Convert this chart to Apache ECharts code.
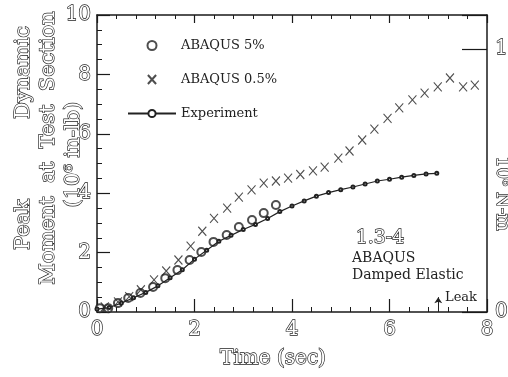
<!DOCTYPE html>
<html><head><meta charset="utf-8">
<script src="https://cdn.jsdelivr.net/npm/echarts@6/dist/echarts.min.js"></script>
<style>html,body{margin:0;padding:0;background:#fff}#c{width:508px;height:377px}</style>
</head><body><div id="c"></div>
<script>
// ABAQUS 5% damping (circles)
const t5 = [0.06, 0.23, 0.43, 0.64, 0.89, 1.15, 1.40, 1.65, 1.90, 2.14, 2.39, 2.66, 2.91, 3.18, 3.42, 3.67];
const m5 = [0.13, 0.13, 0.30, 0.47, 0.64, 0.84, 1.14, 1.41, 1.75, 2.02, 2.36, 2.59, 2.86, 3.10, 3.33, 3.60];
// ABAQUS 0.5% damping (crosses)
const tX = [0.16, 0.43, 0.66, 0.90, 1.17, 1.42, 1.67, 1.92, 2.16, 2.40, 2.67, 2.91, 3.17, 3.42, 3.67, 3.92, 4.17, 4.43, 4.67, 4.95, 5.18, 5.44, 5.69, 5.96, 6.20, 6.47, 6.72, 6.99, 7.24, 7.51, 7.75];
const mX = [0.17, 0.34, 0.52, 0.75, 1.08, 1.38, 1.75, 2.22, 2.72, 3.15, 3.50, 3.87, 4.11, 4.34, 4.41, 4.51, 4.63, 4.75, 4.88, 5.18, 5.42, 5.79, 6.16, 6.52, 6.87, 7.14, 7.37, 7.58, 7.88, 7.58, 7.64];
// Experiment
const tE = [0, 0.25, 0.5, 0.75, 1.0, 1.25, 1.5, 1.75, 2.0, 2.25, 2.5, 2.75, 3.0, 3.25, 3.5, 3.75, 4.0, 4.25, 4.5, 4.75, 5.0, 5.25, 5.5, 5.75, 6.0, 6.25, 6.5, 6.75, 6.97];
const mE = [0.10, 0.15, 0.30, 0.48, 0.66, 0.88, 1.15, 1.42, 1.78, 2.08, 2.38, 2.58, 2.78, 2.95, 3.15, 3.38, 3.57, 3.74, 3.90, 4.02, 4.12, 4.21, 4.31, 4.41, 4.47, 4.54, 4.60, 4.65, 4.67];
// Axis settings / tick labels
const xTickLabels = ['0', '2', '4', '6', '8'];
const yTickLabels = ['0', '2', '4', '6', '8', '10'];
const rightTickLabels = ['0', '1'];
const inLbPerNm = 8.85;   // 1 (10^6 N-m) = 8.85 (10^6 in-lb)
const leakTime = 7.0;

const FF = 'DejaVu Serif';
const outline = {color: '#fff', textBorderColor: '#222', textBorderWidth: 1.3, fontFamily: FF};
const gOutline = {fill: '#fff', stroke: '#222', lineWidth: 1.3, fontFamily: FF};
const axisColor = '#1a1a1a';
const markColor = '#222';

const chart = echarts.init(document.getElementById('c'), null, {renderer: 'canvas'});
const pairs = (a, b) => a.map((v, i) => [v, b[i]]);

chart.setOption({
  animation: false,
  backgroundColor: '#fff',
  grid: {left: 97, right: 21, top: 15, bottom: 65, outerBoundsMode: 'none', containLabel: false},
  legend: {
    orient: 'vertical', left: 122, top: 34, itemWidth: 48, itemHeight: 9, itemGap: 21,
    data: ['ABAQUS 5%', 'ABAQUS 0.5%', 'Experiment'],
    textStyle: {fontFamily: FF, fontSize: 13, color: '#222'}
  },
  xAxis: [{
    type: 'value', min: 0, max: 8, interval: 2, position: 'bottom',
    axisLine: {show: true, onZero: false, lineStyle: {color: axisColor, width: 1.5}},
    axisTick: {show: true, inside: true, length: 13, lineStyle: {color: axisColor, width: 1.2}},
    minorTick: {show: true, splitNumber: 5, length: 5, lineStyle: {color: axisColor, width: 1}},
    splitLine: {show: false},
    axisLabel: Object.assign({margin: 8, fontSize: 20,
      formatter: v => xTickLabels[xTickLabels.indexOf(String(v))] || ''}, outline),
    name: 'Time (sec)', nameLocation: 'middle', nameGap: 37, nameMoveOverlap: false,
    nameTextStyle: Object.assign({fontSize: 20, padding: [0, 38, 0, 0]}, outline)
  }, {
    type: 'value', min: 0, max: 8, interval: 2, position: 'top',
    axisLine: {show: true, onZero: false, lineStyle: {color: axisColor, width: 1.5}},
    axisTick: {show: true, inside: true, length: 8, lineStyle: {color: axisColor, width: 1.2}},
    minorTick: {show: true, splitNumber: 5, length: 4, lineStyle: {color: axisColor, width: 1}},
    splitLine: {show: false}, axisLabel: {show: false}
  }],
  yAxis: [{
    type: 'value', min: 0, max: 10, interval: 2, position: 'left',
    axisLine: {show: true, onZero: false, lineStyle: {color: axisColor, width: 1.5}},
    axisTick: {show: true, inside: true, length: 13, lineStyle: {color: axisColor, width: 1.2}},
    minorTick: {show: true, splitNumber: 4, length: 5, lineStyle: {color: axisColor, width: 1}},
    splitLine: {show: false},
    axisLabel: Object.assign({margin: 6, fontSize: 20,
      formatter: v => yTickLabels[yTickLabels.indexOf(String(v))] || ''}, outline),
    name: '   Peak            Dynamic\nMoment  at  Test  Section\n(10\u2076 in-lb)  ',
    nameLocation: 'middle', nameRotate: 90, nameGap: 11, nameMoveOverlap: false,
    nameTextStyle: Object.assign({fontSize: 21, lineHeight: 25, align: 'center', padding: [0, 0, 0, 31]}, outline)
  }, {
    type: 'value', min: 0, max: 10 / inLbPerNm, interval: 1, position: 'right',
    axisLine: {show: true, onZero: false, lineStyle: {color: axisColor, width: 1.5}},
    axisTick: {show: true, inside: true, length: 25, lineStyle: {color: axisColor, width: 1.2}},
    splitLine: {show: false},
    axisLabel: Object.assign({margin: 8, fontSize: 20,
      formatter: v => (Math.abs(v - Math.round(v)) < 1e-9 ? (rightTickLabels[Math.round(v)] || '') : '')}, outline),
    name: '10\u2076 N-m', nameLocation: 'middle', nameRotate: -90, nameGap: 6, nameMoveOverlap: false,
    nameTextStyle: Object.assign({fontSize: 18, padding: [0, 0, 0, 60]}, outline)
  }],
  series: [{
    name: 'ABAQUS 5%', type: 'scatter', data: pairs(t5, m5),
    symbol: 'emptyCircle', symbolSize: 8,
    itemStyle: {color: markColor, borderColor: markColor, borderWidth: 1.1}
  }, {
    name: 'ABAQUS 0.5%', type: 'scatter', data: pairs(tX, mX),
    symbol: 'path://M0,0L10,11M10,0L0,11', symbolSize: [8, 9],
    itemStyle: {color: 'rgba(0,0,0,0)', borderColor: markColor, borderWidth: 1.1}
  }, {
    name: 'Experiment', type: 'line', data: pairs(tE, mE),
    symbol: 'emptyCircle', symbolSize: 3, showSymbol: true,
    lineStyle: {color: markColor, width: 1.2},
    itemStyle: {color: markColor, borderColor: markColor, borderWidth: 1},
    markLine: {
      silent: true, symbol: ['none', 'arrow'], symbolSize: 6,
      lineStyle: {color: markColor, width: 1, type: 'solid'}, label: {show: false},
      data: [[{coord: [leakTime, 0]}, {coord: [leakTime, 0.5]}]]
    }
  }],
  graphic: [
    {type: 'text', left: 355, top: 228, style: Object.assign({text: '1.3-4', fontSize: 19}, gOutline)},
    {type: 'text', left: 352, top: 251, style: {text: 'ABAQUS', fontSize: 14, fontFamily: FF, fill: '#222'}},
    {type: 'text', left: 352, top: 268, style: {text: 'Damped Elastic', fontSize: 14, fontFamily: FF, fill: '#222'}},
    {type: 'text', left: 445, top: 291, style: {text: 'Leak', fontSize: 13, fontFamily: FF, fill: '#222'}}
  ]
});
</script></body></html>
